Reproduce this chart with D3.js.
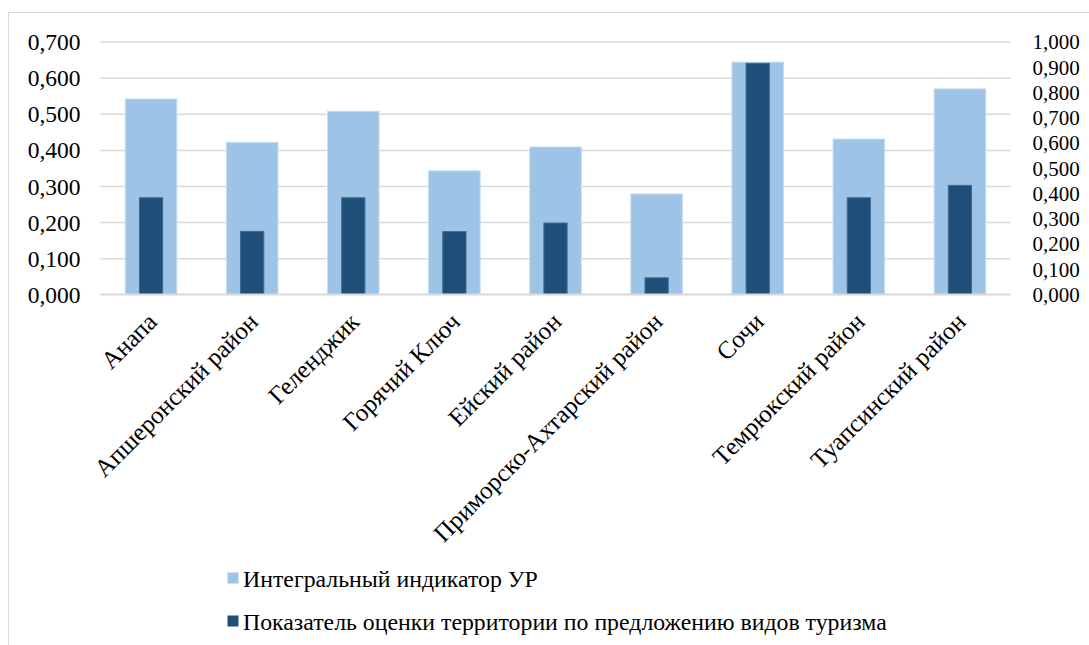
<!DOCTYPE html>
<html>
<head>
<meta charset="utf-8">
<script src="https://cdn.jsdelivr.net/npm/d3@7"></script>
<style>
  html, body { margin: 0; padding: 0; background: #ffffff; }
  svg { display: block; }
  svg text { font-family: "Liberation Serif", "Times New Roman", "Liberation Sans", serif; fill: #000; }
</style>
</head>
<body>
<svg id="chart" width="1089" height="645"></svg>
<script>
const categories = ["Анапа", "Апшеронский район", "Геленджик", "Горячий Ключ", "Ейский район",
  "Приморско-Ахтарский район", "Сочи", "Темрюкский район", "Туапсинский район"];
const integralValues = [0.541, 0.421, 0.507, 0.342, 0.408, 0.278, 0.643, 0.430, 0.569];
const offerValues = [0.382, 0.249, 0.382, 0.248, 0.282, 0.065, 0.914, 0.382, 0.431];
const leftTicks = [0, 0.1, 0.2, 0.3, 0.4, 0.5, 0.6, 0.7];
const rightTicks = [0, 0.1, 0.2, 0.3, 0.4, 0.5, 0.6, 0.7, 0.8, 0.9, 1.0];
const seriesNames = ["Интегральный индикатор УР", "Показатель оценки территории по предложению видов туризма"];

const lightColor = "#9DC3E6", darkColor = "#1F4E79";
const svg = d3.select("#chart");

// outer frame
svg.append("rect").attr("x", 8.5).attr("y", 12.5).attr("width", 1200).attr("height", 800)
  .attr("fill", "none").attr("stroke", "#d9d9d9").attr("stroke-width", 1);

const x = d3.scaleBand().domain(categories).range([100.5, 1010.5]).paddingInner(0.49).paddingOuter(0.245);
const yL = d3.scaleLinear().domain([0, 0.7]).range([294.3, 41.6]);
const yR = d3.scaleLinear().domain([0, 1]).range([294.3, 41.6]);
const fmt = v => d3.format(".3f")(v).replace(".", ",");

// gridlines
const gridAxis = d3.axisLeft(yL).tickValues(leftTicks).tickSize(-(1010.5 - 100.5)).tickFormat("");
const g = svg.append("g").attr("transform", "translate(100.5,0)").call(gridAxis);
g.select(".domain").remove();
g.selectAll(".tick line").attr("stroke", "#d9d9d9").attr("stroke-width", 1.5);

// left axis labels
const la = svg.append("g").attr("transform", "translate(100.5,0)")
  .call(d3.axisLeft(yL).tickValues(leftTicks).tickSize(0).tickPadding(20).tickFormat(fmt));
la.select(".domain").remove();
la.selectAll("text").attr("font-size", 23.5).attr("dy", "0.34em");

// right axis labels
const ra = svg.append("g").attr("transform", "translate(1010.5,0)")
  .call(d3.axisRight(yR).tickValues(rightTicks).tickSize(0).tickPadding(22).tickFormat(fmt));
ra.select(".domain").remove();
ra.selectAll("text").attr("font-size", 21).attr("dy", "0.34em");

// light bars
svg.append("g").selectAll("rect").data(integralValues).join("rect")
  .attr("x", (d, i) => x(categories[i]))
  .attr("width", x.bandwidth())
  .attr("y", d => yL(d))
  .attr("height", d => yL(0) - yL(d))
  .attr("fill", lightColor).attr("stroke", "#c6dcf1").attr("stroke-width", 1);

// dark bars
const dw = x.bandwidth() * 0.45;
svg.append("g").selectAll("rect").data(offerValues).join("rect")
  .attr("x", (d, i) => x(categories[i]) + (x.bandwidth() - dw) / 2)
  .attr("width", dw)
  .attr("y", d => yR(d))
  .attr("height", d => yR(0) - yR(d))
  .attr("fill", darkColor).attr("stroke", "#3d6a94").attr("stroke-width", 1);

// baseline
svg.append("line").attr("x1", 100.5).attr("x2", 1010.5).attr("y1", yL(0)).attr("y2", yL(0))
  .attr("stroke", "#d9d9d9").attr("stroke-width", 1.5);

// category labels
svg.append("g").selectAll("text").data(categories).join("text")
  .attr("transform", d => `translate(${x(d) + x.bandwidth() / 2 - 5},${311}) rotate(-45)`)
  .attr("text-anchor", "end")
  .attr("dy", "0.7em")
  .attr("font-size", 25)
  .text(d => d);

// legend
const legend = svg.append("g");
const legendY = [578, 621];
seriesNames.forEach((name, i) => {
  legend.append("rect").attr("x", 227.5).attr("y", legendY[i] - 5.5).attr("width", 11).attr("height", 11)
    .attr("fill", i === 0 ? lightColor : darkColor);
  legend.append("text").attr("x", 243).attr("y", legendY[i] + 9).attr("font-size", 23.8).text(name);
});
</script>
</body>
</html>
